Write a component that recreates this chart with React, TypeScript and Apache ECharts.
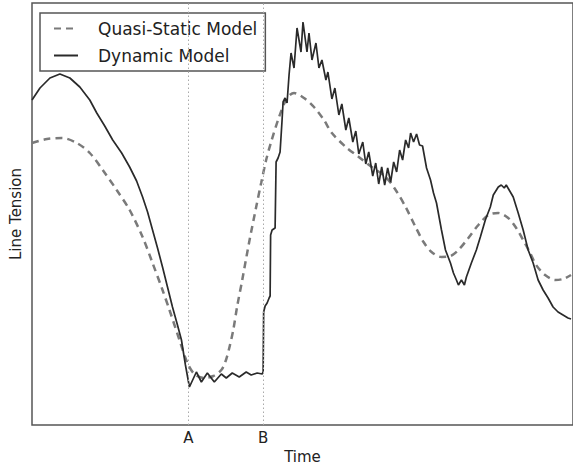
import { useEffect, useRef } from "react";
import * as echarts from "echarts";

// Quasi-static model (time, tension) in arbitrary units
const quasiTime = [0, 15, 30, 45, 58, 71, 85, 98, 111, 121, 131, 138, 148, 156, 163, 173, 182, 190, 194, 198, 202, 206, 211, 218, 225, 230, 235, 240, 248, 256, 263, 273, 283, 293, 301, 315, 328, 341, 355, 365, 375, 385, 393, 401, 411, 420, 428, 438, 448, 458, 468, 478, 486, 493, 500, 506, 515, 525, 533, 541];
const quasiTension = [282, 286, 287, 282, 272, 255, 235, 215, 188, 162, 135, 115, 85, 62, 51, 47, 49, 55, 63, 77, 95, 119, 145, 183, 218, 242, 265, 283, 308, 327, 332, 327, 318, 305, 292, 278, 268, 258, 248, 235, 218, 198, 183, 173, 168, 169, 175, 187, 200, 210, 212, 207, 197, 185, 172, 160, 150, 145, 146, 150];

// Dynamic model (time, tension)
const dynamicTime = [0, 8, 18, 28, 38, 48, 58, 65, 73, 81, 90, 98, 105, 111, 116, 121, 126, 131, 136, 141, 146, 150, 154, 158, 165, 170, 176, 183, 190, 195, 201, 208, 215, 220, 226, 231, 232, 232.5, 234, 236, 238, 239, 239.5, 241, 244, 245, 247, 249, 251, 252, 254, 256, 258, 260, 263, 266, 270, 272, 276, 278, 281, 285, 288, 291, 295, 297, 301, 304, 308, 311, 315, 318, 322, 325, 328, 332, 335, 338, 342, 345, 348, 351, 354, 357, 360, 363, 366, 369, 372, 375, 378, 380, 383, 386, 389, 392, 396, 400, 403, 406, 411, 415, 420, 423, 426, 428, 431, 434, 436, 441, 446, 450, 455, 460, 463, 468, 471, 474, 476, 483, 488, 493, 498, 503, 508, 513, 518, 523, 528, 533, 538, 541];
const dynamicTension = [325, 337, 347, 351, 347, 338, 325, 312, 299, 285, 272, 258, 244, 228, 213, 195, 177, 158, 138, 118, 100, 85, 60, 38, 53, 43, 52, 43, 51, 47, 52, 48, 53, 50, 52, 51, 53, 113, 119, 122, 127, 129, 190, 195, 197, 263, 267, 273, 305, 323, 327, 322, 350, 372, 357, 397, 373, 403, 373, 392, 365, 382, 357, 365, 345, 353, 326, 337, 310, 321, 295, 307, 283, 294, 271, 283, 261, 273, 249, 262, 241, 258, 240, 257, 243, 263, 253, 275, 265, 285, 277, 292, 283, 291, 280, 279, 257, 245, 232, 222, 195, 175, 162, 152, 145, 140, 145, 140, 148, 162, 175, 188, 205, 218, 230, 238, 240, 237, 240, 228, 212, 195, 175, 162, 145, 135, 127, 118, 113, 110, 107, 106];

// Event markers on the time axis
const markerTimes = [157, 232];
const markerLabels = ["A", "B"];

const FONT = "DejaVu Sans";

export default function App() {
  const ref = useRef<HTMLDivElement>(null);

  useEffect(() => {
    if (!ref.current) return;
    const chart = echarts.init(ref.current, undefined, { renderer: "svg" });
    const quasiData = quasiTime.map((t, i) => [t, quasiTension[i]]);
    const dynData = dynamicTime.map((t, i) => [t, dynamicTension[i]]);

    chart.setOption({
      animation: false,
      backgroundColor: "#ffffff",
      textStyle: { fontFamily: FONT },
      grid: {
        show: true,
        left: 32,
        right: -2,
        top: 3,
        bottom: 46,
        borderColor: "#555555",
        borderWidth: 1.5,
        backgroundColor: "#ffffff",
      },
      legend: {
        orient: "vertical",
        left: 40,
        top: 13,
        backgroundColor: "#ffffff",
        borderColor: "#555555",
        borderWidth: 1.5,
        borderRadius: 0,
        padding: [7, 8, 7, 13],
        itemGap: 10,
        itemWidth: 24,
        itemHeight: 14,
        itemStyle: { opacity: 0 },
        textStyle: { fontFamily: FONT, fontSize: 17, color: "#222222", padding: [0, 0, 0, 15] },
        data: ["Quasi-Static Model", "Dynamic Model"],
      },
      xAxis: {
        type: "value",
        min: 0,
        max: 543,
        name: "Time",
        nameLocation: "middle",
        nameGap: 24,
        nameTextStyle: { fontFamily: FONT, fontSize: 15, color: "#222222" },
        axisLine: { show: false },
        axisTick: { show: false },
        splitLine: { show: false },
        axisLabel: {
          customValues: markerTimes,
          formatter: (v: number) => {
            const i = markerTimes.indexOf(v);
            return i >= 0 ? markerLabels[i] : "";
          },
          fontFamily: FONT,
          fontSize: 15,
          color: "#222222",
          margin: 5,
        },
      },
      yAxis: {
        type: "value",
        min: 0,
        max: 422,
        name: "Line Tension",
        nameLocation: "middle",
        nameGap: 9,
        nameRotate: 90,
        nameTextStyle: { fontFamily: FONT, fontSize: 15, color: "#222222" },
        axisLine: { show: false },
        axisTick: { show: false },
        axisLabel: { show: false },
        splitLine: { show: false },
      },
      series: [
        {
          name: "Quasi-Static Model",
          type: "line",
          data: quasiData,
          symbol: "none",
          smooth: 0.3,
          lineStyle: { color: "#7a7a7a", width: 2.5, type: [7, 5] },
          itemStyle: { color: "#7a7a7a" },
          z: 2,
        },
        {
          name: "Dynamic Model",
          type: "line",
          data: dynData,
          symbol: "none",
          lineStyle: { color: "#2a2a2a", width: 1.7 },
          itemStyle: { color: "#2a2a2a" },
          z: 3,
          markLine: {
            silent: true,
            symbol: ["none", "none"],
            label: { show: false },
            lineStyle: { color: "#aaaaaa", width: 1, type: [1.5, 2.5] },
            data: markerTimes.map((t) => ({ xAxis: t })),
          },
        },
      ],
    });
    return () => chart.dispose();
  }, []);

  return <div ref={ref} style={{ width: 573, height: 471, position: "absolute", left: 0, top: 0 }} />;
}
